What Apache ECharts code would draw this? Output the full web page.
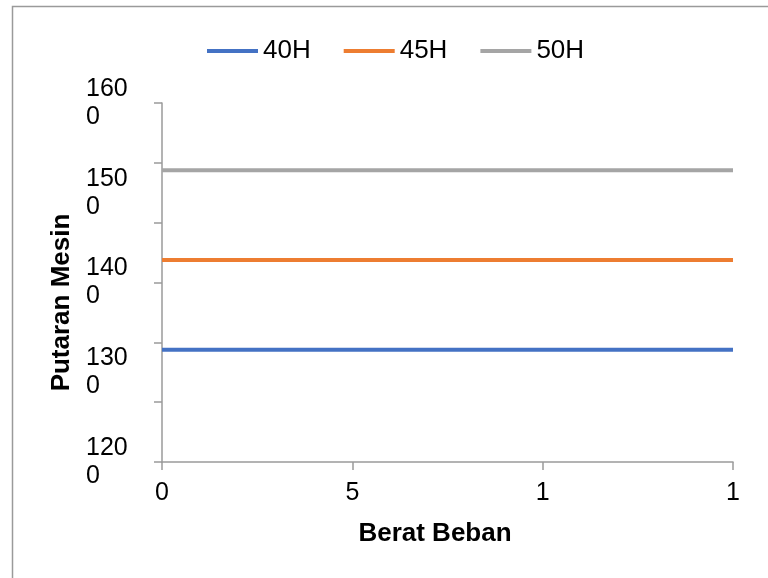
<!DOCTYPE html>
<html>
<head>
<meta charset="utf-8">
<script src="https://cdn.jsdelivr.net/npm/echarts@6/dist/echarts.min.js"></script>
<style>
html,body{margin:0;padding:0;background:#fff;}
#chart{width:768px;height:578px;}
</style>
</head>
<body>
<div id="chart"></div>
<script>
// Data
var categories = ["0", "5", "1", "1"];
var seriesNames = ["40H", "45H", "50H"];
var values40H = [1325, 1325, 1325, 1325];
var values45H = [1425, 1425, 1425, 1425];
var values50H = [1525, 1525, 1525, 1525];
var yMin = 1200, yMax = 1600, yLabelStep = 100, yTickCount = 6;
var xTitle = "Berat Beban";
var yTitle = "Putaran Mesin";

var colors = ["#4472C4", "#ED7D31", "#A5A5A5"];
var font = "'Liberation Sans', Arial, sans-serif";
var chart = echarts.init(document.getElementById('chart'), null, {renderer: 'canvas'});

function mk(name, data, color) {
  return {
    name: name, type: 'line', data: data, symbol: 'none', yAxisIndex: 0,
    lineStyle: {color: color, width: 4, cap: 'butt'},
    itemStyle: {color: color},
    emphasis: {disabled: true}, animation: false
  };
}

chart.setOption({
  animation: false,
  backgroundColor: '#ffffff',
  graphic: [{
    type: 'rect', left: 10, top: 4, silent: true,
    shape: {width: 800, height: 620},
    style: {fill: 'none', stroke: '#9a9a9a', lineWidth: 1.5}
  }],
  legend: {
    data: seriesNames,
    top: 33, left: 202,
    icon: 'rect', itemWidth: 51, itemHeight: 4, itemGap: 33,
    textStyle: {fontFamily: font, fontSize: 26, color: '#000'}
  },
  grid: {left: 162, right: 35, top: 103, bottom: 116, containLabel: false},
  xAxis: {
    type: 'category', data: categories, boundaryGap: false,
    axisLine: {lineStyle: {color: '#9a9a9a', width: 1.5}},
    axisTick: {show: true, length: 8, alignWithLabel: true, lineStyle: {color: '#9a9a9a', width: 1.5}},
    axisLabel: {margin: 19, fontFamily: font, fontSize: 25, color: '#000'},
    splitLine: {show: false},
    name: xTitle, nameLocation: 'middle', nameGap: 59,
    nameTextStyle: {fontFamily: font, fontSize: 26, fontWeight: 'bold', color: '#000', padding: [0, 25, 0, 0]}
  },
  yAxis: [{
    type: 'value', min: yMin, max: yMax, interval: yLabelStep,
    axisLine: {show: true, lineStyle: {color: '#9a9a9a', width: 1.5}},
    axisTick: {show: false},
    splitLine: {show: false},
    axisLabel: {
      margin: 76, align: 'left', fontFamily: font, fontSize: 25, lineHeight: 28, color: '#000',
      formatter: function (v) { var s = String(v); return s.slice(0, 3) + '\n' + s.slice(3); }
    },
    name: yTitle, nameLocation: 'middle', nameGap: 86, nameRotate: 90,
    nameTextStyle: {fontFamily: font, fontSize: 26, fontWeight: 'bold', color: '#000', padding: [0, 40, 0, 0]}
  }, {
    type: 'value', min: yMin, max: yMax, interval: (yMax - yMin) / yTickCount, position: 'left',
    axisLine: {show: false},
    axisTick: {show: true, length: 8, lineStyle: {color: '#9a9a9a', width: 1.5}},
    axisLabel: {show: false},
    splitLine: {show: false}
  }],
  series: [
    mk(seriesNames[0], values40H, colors[0]),
    mk(seriesNames[1], values45H, colors[1]),
    mk(seriesNames[2], values50H, colors[2])
  ]
});
</script>
</body>
</html>
